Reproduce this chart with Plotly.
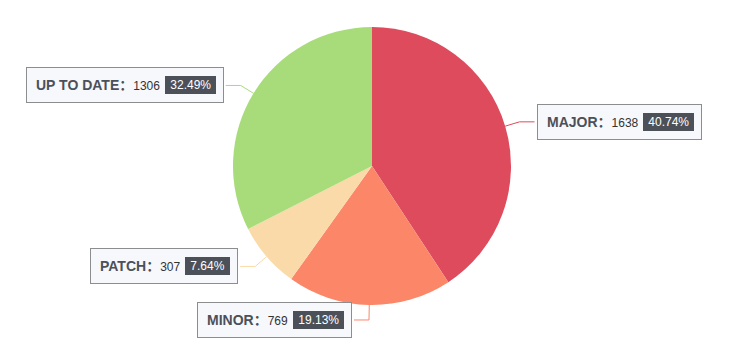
import math
import plotly.graph_objects as go

# ---- data ----
names = ["MAJOR", "MINOR", "PATCH", "UP TO DATE"]
values = [1638, 769, 307, 1306]
percents = ["40.74%", "19.13%", "7.64%", "32.49%"]
colors = ["#dd4b5d", "#fc8668", "#fadaa8", "#a8dc7a"]

# ---- layout constants (pixels) ----
W, H = 732, 353
CX, CY, R = 372, 166, 139
LEN1, LEN2, GAP = 15, 15, 2
PAD, BW, IPAD = 9, 1, 2
FONT = "Liberation Sans, Arial, Helvetica, 'Noto Sans CJK SC', sans-serif"

REG = {d: 556 for d in "0123456789"}
REG.update({".": 278, "%": 889, " ": 278, "\u00a0": 278})
BOLD = {"A": 722, "B": 722, "C": 722, "D": 722, "E": 667, "F": 611, "G": 778,
        "H": 722, "I": 278, "J": 556, "K": 722, "L": 611, "M": 833, "N": 722,
        "O": 778, "P": 667, "Q": 778, "R": 722, "S": 667, "T": 611, "U": 722,
        "V": 667, "W": 944, "X": 667, "Y": 667, "Z": 611, " ": 278, "：": 1000}


def tw(s, size, table):
    return sum(table.get(c, 600) for c in s) * size / 1000.0


def px(x):
    return x / W


def py(y):
    return 1 - y / H


fig = go.Figure()
fig.add_trace(go.Pie(
    labels=names, values=values, sort=False, direction="clockwise", rotation=0,
    marker=dict(colors=colors, line=dict(width=0)),
    textinfo="none", hoverinfo="label+value+percent", showlegend=False,
    domain=dict(x=[px(CX - R), px(CX + R)], y=[py(CY + R), py(CY - R)]),
))

total = sum(values)
cum = 0
shapes, annos = [], []
for name, val, pct, col in zip(names, values, percents, colors):
    mid = (cum + val / 2) / total * 2 * math.pi
    cum += val
    sx, sy = math.sin(mid), -math.cos(mid)
    ex, ey = CX + R * sx, CY + R * sy
    kx, ky = CX + (R + LEN1) * sx, CY + (R + LEN1) * sy
    right = sx > 0
    tx = kx + (LEN2 if right else -LEN2)
    ty = ky
    shapes.append(dict(
        type="path", xref="paper", yref="paper",
        path=f"M {px(ex)} {py(ey)} L {px(kx)} {py(ky)} L {px(tx)} {py(ty)}",
        line=dict(color=col, width=1)))

    outer = (f"<span style='font-size:14px;color:#4C5058'><b>{name}：</b></span>"
             f"{val}\u00a0\u00a0<span style='color:#F6F8FC'>\u00a0{pct}\u00a0</span>")
    text_w = (tw(name + "：", 14, BOLD)
              + tw(f"{val}\u00a0\u00a0\u00a0{pct}\u00a0", 12, REG))
    box_w = text_w + 2 * (PAD + BW)
    x1 = tx + GAP + box_w if right else tx - GAP
    annos.append(dict(
        x=px(x1), y=py(ty), xref="paper", yref="paper", xanchor="right", yanchor="middle",
        text=outer, showarrow=False, align="left",
        font=dict(family=FONT, size=12, color="#333333"),
        bgcolor="#F6F8FC", bordercolor="#8C8D8E", borderwidth=BW, borderpad=PAD))
    annos.append(dict(
        x=px(x1 - BW - PAD + IPAD), y=py(ty), xref="paper", yref="paper",
        xanchor="right", yanchor="middle",
        text=f"\u00a0{pct}\u00a0", showarrow=False,
        font=dict(family=FONT, size=12, color="#ffffff"),
        bgcolor="#4C5058", borderwidth=0, borderpad=IPAD))

fig.update_layout(
    width=W, height=H, margin=dict(l=0, r=0, t=0, b=0),
    paper_bgcolor="#ffffff", plot_bgcolor="#ffffff",
    shapes=shapes, annotations=annos,
)
fig.write_html("out.html")
